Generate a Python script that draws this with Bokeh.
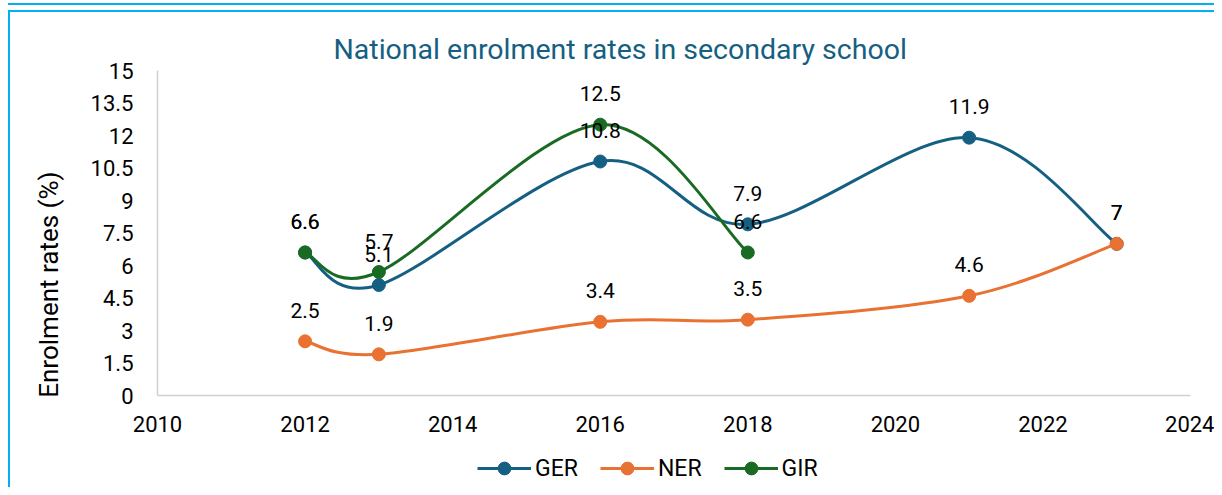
import numpy as np
from bokeh.plotting import figure
from bokeh.layouts import column
from bokeh.models import ColumnDataSource, Legend, LegendItem, FixedTicker, Range1d, Title
from bokeh.core.properties import value
from bokeh.embed import file_html
from bokeh.resources import INLINE

# ---- data ----
ger_years = [2012, 2013, 2016, 2018, 2021, 2023]
ger_vals = [6.6, 5.1, 10.8, 7.9, 11.9, 7]
ner_years = [2012, 2013, 2016, 2018, 2021, 2023]
ner_vals = [2.5, 1.9, 3.4, 3.5, 4.6, 7]
gir_years = [2012, 2013, 2016, 2018]
gir_vals = [6.6, 5.7, 12.5, 6.6]
x_ticks = [2010, 2012, 2014, 2016, 2018, 2020, 2022, 2024]
y_ticks = [0, 1.5, 3, 4.5, 6, 7.5, 9, 10.5, 12, 13.5, 15]

FONT = "Roboto"
BORDER = "#00B0F0"
NB = "\u00a0"

p = figure(width=1214, height=440, output_backend="svg", toolbar_location=None,
           x_range=Range1d(2010, 2024), y_range=Range1d(0, 15),
           min_border_left=157, min_border_right=24, min_border_top=70, min_border_bottom=45)
p.outline_line_color = None
p.background_fill_color = "white"
p.border_fill_color = None
p.xgrid.visible = False
p.ygrid.visible = False

p.add_layout(Title(text="National enrolment rates in secondary school", align="left",
                   offset=176, text_font=FONT, text_font_size="28.5px",
                   text_font_style="normal", text_color="#156082"), "above")

for ax in (p.xaxis[0], p.yaxis[0]):
    ax.axis_line_color = "#D0D0D0"
    ax.axis_line_width = 1.5
    ax.major_tick_line_color = None
    ax.minor_tick_line_color = None
    ax.major_label_text_font = FONT
    ax.major_label_text_font_size = "22px"
    ax.major_label_text_color = "#000000"

p.xaxis.ticker = FixedTicker(ticks=x_ticks)
p.yaxis.ticker = FixedTicker(ticks=y_ticks)
p.yaxis.major_label_overrides = {t: f"{t:g}" for t in y_ticks}
p.xaxis.major_label_standoff = 14
p.yaxis.major_label_standoff = 18

# trailing no-break spaces push the centred label lower, as in the reference
p.yaxis.axis_label = "Enrolment rates (%)" + NB * 16
p.yaxis.axis_label_text_font = FONT
p.yaxis.axis_label_text_font_size = "26px"
p.yaxis.axis_label_text_font_style = "normal"
p.yaxis.axis_label_text_color = "#000000"
p.yaxis.axis_label_standoff = 24


def smooth(xs, ys):
    x = np.asarray(xs, float)
    y = np.asarray(ys, float)
    xp = np.concatenate([[x[0]], x, [x[-1]]])
    yp = np.concatenate([[y[0]], y, [y[-1]]])
    n = len(x)
    x0, y0 = x[:-1], y[:-1]
    x1, y1 = x[1:], y[1:]
    cx0 = x0 + (xp[2:n + 1] - xp[0:n - 1]) / 6
    cy0 = y0 + (yp[2:n + 1] - yp[0:n - 1]) / 6
    cx1 = x1 - (xp[3:n + 2] - xp[1:n]) / 6
    cy1 = y1 - (yp[3:n + 2] - yp[1:n]) / 6
    return dict(x0=x0, y0=y0, x1=x1, y1=y1, cx0=cx0, cy0=cy0, cx1=cx1, cy1=cy1)


series = [("GER", ger_years, ger_vals, "#156082"),
          ("NER", ner_years, ner_vals, "#E97132"),
          ("GIR", gir_years, gir_vals, "#196B24")]

# legend strip: a second, axis-less figure directly below the chart
leg = figure(width=1214, height=47, output_backend="svg", toolbar_location=None,
             x_range=Range1d(0, 1), y_range=Range1d(0, 1),
             x_axis_location=None, y_axis_location=None,
             min_border_left=0, min_border_right=0, min_border_top=0, min_border_bottom=0)
leg.outline_line_color = None
leg.background_fill_color = None
leg.border_fill_color = None
leg.grid.visible = False

legend_items = []
for name, xs, ys, col in series:
    seg = ColumnDataSource(smooth(xs, ys))
    p.bezier(x0="x0", y0="y0", x1="x1", y1="y1", cx0="cx0", cy0="cy0", cx1="cx1", cy1="cy1",
             source=seg, line_color=col, line_width=3)
    src = ColumnDataSource(dict(x=xs, y=ys))
    p.scatter(x="x", y="y", source=src, size=13, fill_color=col, line_color=col)
    # off-range renderers in the legend strip carry the legend glyph styles
    lsrc = ColumnDataSource(dict(x=[xs[0]], y=[ys[0]]))
    ln = leg.line(x="x", y="y", source=lsrc, line_color=col, line_width=3)
    sc = leg.scatter(x="x", y="y", source=lsrc, size=13, fill_color=col, line_color=col)
    legend_items.append(LegendItem(label=name, renderers=[ln, sc]))

# data labels (drawn after all lines)
for name, xs, ys, col in series:
    src = ColumnDataSource(dict(x=xs, y=ys, t=[f"{v:g}" for v in ys]))
    p.text(x="x", y="y", text="t", source=src, text_align="center", text_baseline="middle",
           y_offset=-31, text_font=value(FONT), text_font_size="21px", text_color="#000000")

legend = Legend(items=legend_items, orientation="horizontal", location=(320, 3),
                glyph_width=54, glyph_height=32, label_standoff=4, spacing=22,
                label_text_font=FONT, label_text_font_size="23px", label_text_color="#000000",
                border_line_color=None, background_fill_alpha=0, padding=2, margin=0)
leg.add_layout(legend, "center")

layout = column(p, leg, spacing=0)
layout.styles = {"box-shadow": (f"inset 8px 0 0 0 #ffffff, inset 0 3px 0 0 #ffffff, "
                                f"inset 0 5px 0 0 {BORDER}, inset 0 10px 0 0 #ffffff, "
                                f"inset 0 12px 0 0 {BORDER}, inset 10px 0 0 0 {BORDER}")}

open("out.html", "w").write(file_html(layout, INLINE))
